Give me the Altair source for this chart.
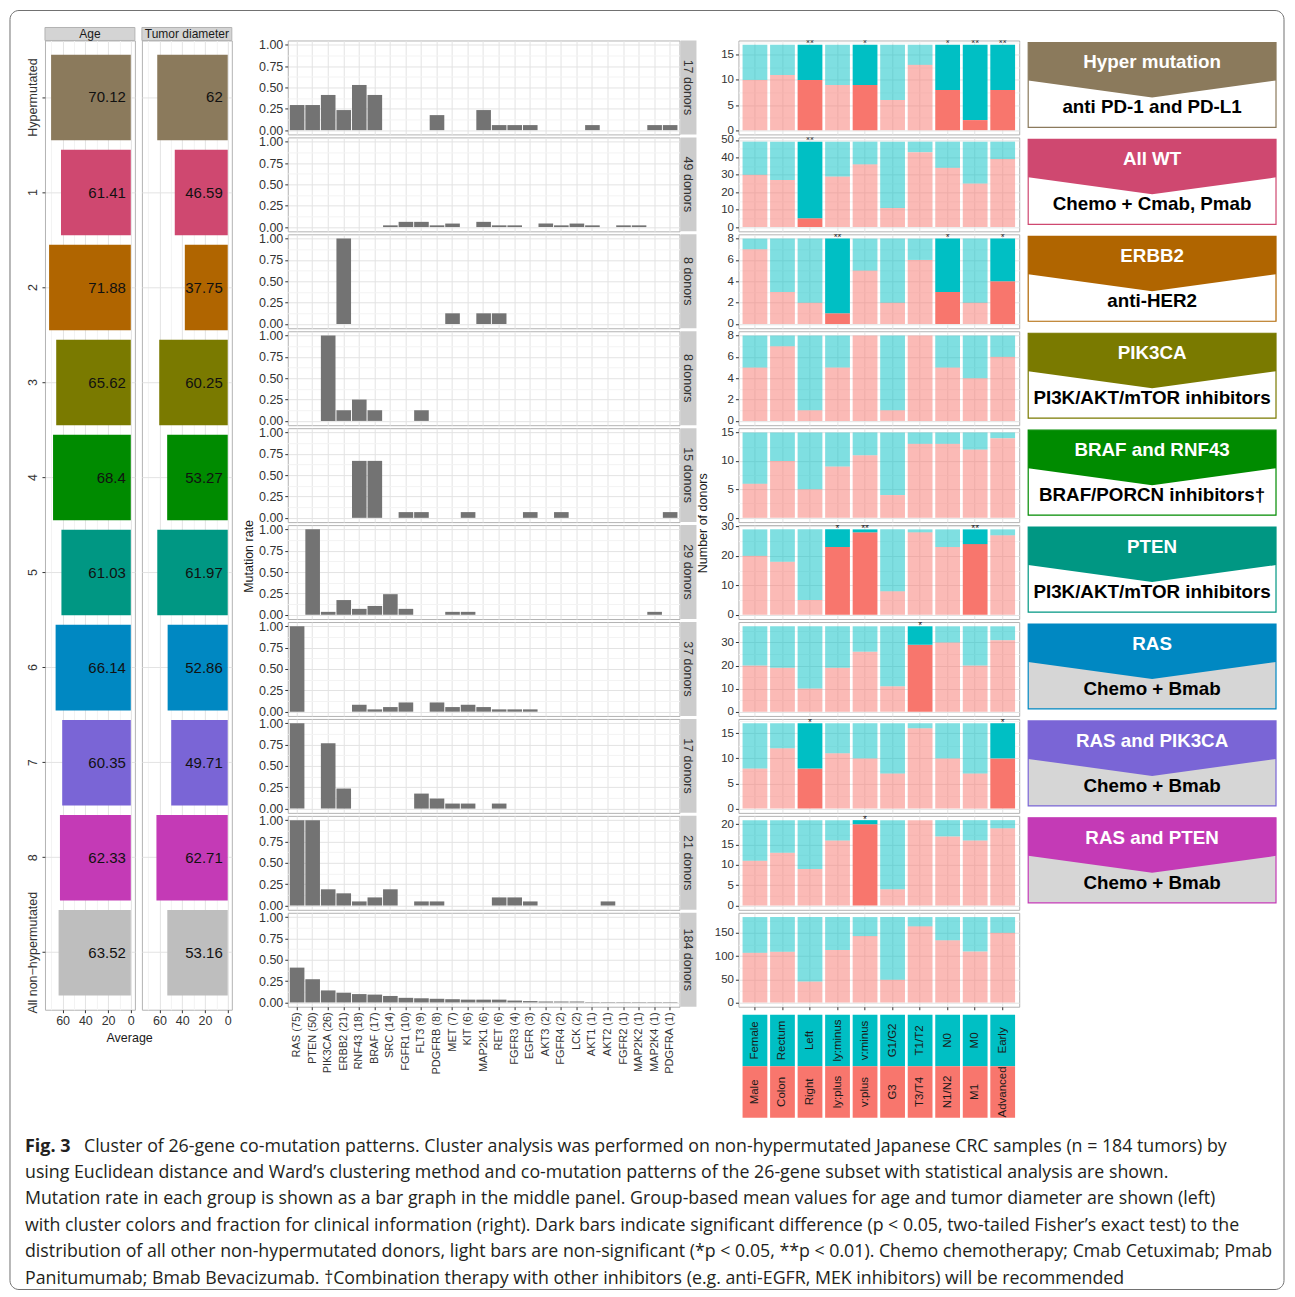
import altair as alt
import pandas as pd

FONT = "Liberation Sans"
CAP_FONT = "Open Sans"
MAJOR = "#E3E3E3"
MINOR = "#F3F3F3"
BORDER = "#B3B3B3"
TXT = "#333333"

# ---------------- data ----------------
groups = ["Hypermutated", "1", "2", "3", "4", "5", "6", "7", "8", "All non\u2212hypermutated"]
group_colors = ["#8B7A5C", "#CF4870", "#B06500", "#7A7A00", "#008B00",
                "#009783", "#0088C2", "#7A65D6", "#C43AB6", "#BEBEBE"]
age_mean = [70.12, 61.41, 71.88, 65.62, 68.4, 61.03, 66.14, 60.35, 62.33, 63.52]
tumor_mean = [62, 46.59, 37.75, 60.25, 53.27, 61.97, 52.86, 49.71, 62.71, 53.16]

genes = ["RAS (75)", "PTEN (50)", "PIK3CA (26)", "ERBB2 (21)", "RNF43 (18)", "BRAF (17)",
         "SRC (14)", "FGFR1 (10)", "FLT3 (9)", "PDGFRB (8)", "MET (7)", "KIT (6)",
         "MAP2K1 (6)", "RET (6)", "FGFR3 (4)", "EGFR (3)", "AKT3 (2)", "FGFR4 (2)",
         "LCK (2)", "AKT1 (1)", "AKT2 (1)", "FGFR2 (1)", "MAP2K2 (1)", "MAP2K4 (1)", "PDGFRA (1)"]

rate_hyper = [0.294, 0.294, 0.412, 0.235, 0.529, 0.412, 0, 0, 0, 0.176, 0, 0, 0.235,
              0.059, 0.059, 0.059, 0, 0, 0, 0.059, 0, 0, 0, 0.059, 0.059]
rate_c1 = [0, 0, 0, 0, 0, 0, 0.020, 0.061, 0.061, 0.020, 0.041, 0, 0.061,
           0.020, 0.020, 0, 0.041, 0.020, 0.041, 0.020, 0, 0.020, 0.020, 0, 0]
rate_c2 = [0, 0, 0, 1.0, 0, 0, 0, 0, 0, 0, 0.125, 0, 0.125,
           0.125, 0, 0, 0, 0, 0, 0, 0, 0, 0, 0, 0]
rate_c3 = [0, 0, 1.0, 0.125, 0.25, 0.125, 0, 0, 0.125, 0, 0, 0, 0,
           0, 0, 0, 0, 0, 0, 0, 0, 0, 0, 0, 0]
rate_c4 = [0, 0, 0, 0, 0.667, 0.667, 0, 0.067, 0.067, 0, 0, 0.067, 0,
           0, 0, 0.067, 0, 0.067, 0, 0, 0, 0, 0, 0, 0.067]
rate_c5 = [0, 1.0, 0.034, 0.172, 0.069, 0.103, 0.241, 0.069, 0, 0, 0.034, 0.034, 0,
           0, 0, 0, 0, 0, 0, 0, 0, 0, 0, 0.034, 0]
rate_c6 = [1.0, 0, 0, 0, 0.081, 0.027, 0.054, 0.108, 0, 0.108, 0.054, 0.081, 0.054,
           0.027, 0.027, 0.027, 0, 0, 0, 0, 0, 0, 0, 0, 0]
rate_c7 = [1.0, 0, 0.765, 0.235, 0, 0, 0, 0, 0.176, 0.118, 0.059, 0.059, 0,
           0.059, 0, 0, 0, 0, 0, 0, 0, 0, 0, 0, 0]
rate_c8 = [1.0, 1.0, 0.190, 0.143, 0.048, 0.095, 0.190, 0, 0.048, 0.048, 0, 0, 0,
           0.095, 0.095, 0.048, 0, 0, 0, 0, 0.048, 0, 0, 0, 0]
rate_all = [0.408, 0.272, 0.141, 0.114, 0.098, 0.092, 0.076, 0.054, 0.049, 0.043, 0.038,
            0.033, 0.033, 0.033, 0.022, 0.016, 0.011, 0.011, 0.011, 0.005, 0.005, 0.005,
            0.005, 0.005, 0.005]
mut_rates = [rate_hyper, rate_c1, rate_c2, rate_c3, rate_c4, rate_c5, rate_c6, rate_c7, rate_c8, rate_all]
donor_labels = ["17 donors", "49 donors", "8 donors", "8 donors", "15 donors",
                "29 donors", "37 donors", "17 donors", "21 donors", "184 donors"]
mut_ticks = [0, 0.125, 0.25, 0.375, 0.5, 0.625, 0.75, 0.875, 1.0]

clin_top = ["Female", "Rectum", "Left", "ly:minus", "v:minus", "G1/G2", "T1/T2", "N0", "M0", "Early"]
clin_bottom = ["Male", "Colon", "Right", "ly:plus", "v:plus", "G3", "T3/T4", "N1/N2", "M1", "Advanced"]
clin_total = [17, 49, 8, 8, 15, 29, 37, 17, 21, 184]
clin_red = [
    [10, 11, 10, 9, 9, 6, 13, 8, 2, 8],
    [30, 27, 5, 29, 36, 11, 43, 34, 25, 39],
    [7, 3, 2, 1, 5, 2, 6, 3, 2, 4],
    [5, 7, 1, 5, 8, 1, 8, 5, 4, 6],
    [6, 10, 5, 9, 11, 4, 13, 13, 12, 14],
    [20, 18, 5, 23, 28, 8, 28, 23, 24, 27],
    [20, 19, 10, 19, 26, 11, 29, 30, 20, 31],
    [8, 12, 8, 11, 10, 7, 16, 10, 7, 10],
    [11, 13, 9, 16, 20, 4, 21, 17, 16, 19],
    [107, 109, 45, 113, 143, 49, 164, 134, 110, 150],
]
clin_sig = [
    ["", "", "**", "", "*", "", "", "*", "**", "**"],
    ["", "", "**", "", "", "", "", "", "", ""],
    ["", "", "", "**", "", "", "", "*", "", "*"],
    [""] * 10,
    [""] * 10,
    ["", "", "", "*", "**", "", "", "", "**", ""],
    ["", "", "", "", "", "", "*", "", "", ""],
    ["", "", "*", "", "", "", "", "", "", "*"],
    ["", "", "", "", "*", "", "", "", "", ""],
    [""] * 10,
]
clin_step = [5, 10, 2, 2, 5, 10, 10, 5, 5, 50]

therapy_head = ["Hyper mutation", "All WT", "ERBB2", "PIK3CA", "BRAF and RNF43",
                "PTEN", "RAS", "RAS and PIK3CA", "RAS and PTEN"]
therapy_drug = ["anti PD-1 and PD-L1", "Chemo + Cmab, Pmab", "anti-HER2",
                "PI3K/AKT/mTOR inhibitors", "BRAF/PORCN inhibitors\u2020",
                "PI3K/AKT/mTOR inhibitors", "Chemo + Bmab", "Chemo + Bmab", "Chemo + Bmab"]
therapy_fill = ["#FFFFFF"] * 6 + ["#D6D6D6"] * 3
banner_x = [0, 0.5, 1]
banner_bottom = [40, 57, 40]
box_top, box_bottom, head_y, drug_y = 2, 87, 22, 67

caption_lines = [
    "Cluster of 26-gene co-mutation patterns. Cluster analysis was performed on non-hypermutated Japanese CRC samples (n = 184 tumors) by",
    "using Euclidean distance and Ward\u2019s clustering method and co-mutation patterns of the 26-gene subset with statistical analysis are shown.",
    "Mutation rate in each group is shown as a bar graph in the middle panel. Group-based mean values for age and tumor diameter are shown (left)",
    "with cluster colors and fraction for clinical information (right). Dark bars indicate significant difference (p < 0.05, two-tailed Fisher\u2019s exact test) to the",
    "distribution of all other non-hypermutated donors, light bars are non-significant (*p < 0.05, **p < 0.01). Chemo chemotherapy; Cmab Cetuximab; Pmab",
    "Panitumumab; Bmab Bevacizumab. \u2020Combination therapy with other inhibitors (e.g. anti-EGFR, MEK inhibitors) will be recommended",
]

# ---------------- sizes ----------------
H = 94          # row panel height
ROWPAD = -20    # negative: rows are stacked by their bottom extent only
W_MUT = 392
W_CLIN = 281
W_TH = 248
W_AVG = 90
H_AVG = 970
NOBORDER = alt.ViewBackground(strokeOpacity=0)
FRAME_TOP = 1124   # distance from caption origin up to the figure frame


def cond(test, a, b):
    return {"condition": {"test": test, "value": a}, "value": b}


def marker(df, below):
    # invisible rect fixing the bottom extent of a row (sets row pitch)
    return alt.Chart(df).mark_rect(opacity=0).encode(
        x=alt.value(0), x2=alt.value(1), y=alt.value(H - 1), y2=alt.value(H + below))


# ---------------- left panel: averages ----------------
avg_df = pd.DataFrame({
    "group": groups, "color": group_colors,
    "age": age_mean, "tumor": tumor_mean,
    "age_lab": [f"{v:g}" for v in age_mean],
    "tumor_lab": [f"{v:g}" for v in tumor_mean],
})


def avg_panel(field, header, show_y):
    minor = "datum.value % 20 !== 0"
    xax = alt.Axis(title=None, values=list(range(0, 80, 10)), grid=True,
                   labelExpr="datum.value % 20 === 0 ? datum.label : ''",
                   tickOpacity=cond(minor, 0, 1), gridColor=cond(minor, MINOR, MAJOR),
                   labelFontSize=12.5, labelFlush=False, labelOverlap=False)
    if show_y:
        yax = alt.Axis(title=None, labelAngle=270, labelAlign="center", labelBaseline="bottom",
                       labelFontSize=12.5, grid=True, bandPosition=0.5, gridColor=MAJOR,
                       labelOverlap=False)
    else:
        yax = alt.Axis(title=None, labels=False, ticks=False, grid=True, bandPosition=0.5,
                       gridColor=MAJOR)
    xs = alt.Scale(domain=[-3.6, 75.5], reverse=True, nice=False, zero=False)
    ys = alt.Scale(paddingInner=0.1, paddingOuter=0.15)
    base = alt.Chart(avg_df)
    bars = base.mark_bar().encode(
        x=alt.X(f"{field}:Q", scale=xs, axis=xax), x2=alt.datum(0),
        y=alt.Y("group:N", sort=groups, scale=ys, axis=yax),
        color=alt.Color("color:N", scale=None),
    )
    labels = base.mark_text(align="right", baseline="middle", dx=-5, fontSize=15,
                            color="#111111", font=FONT).encode(
        x=alt.X("zero:Q", scale=xs, axis=xax),
        y=alt.Y("group:N", sort=groups, scale=ys, axis=yax),
        text=f"{field}_lab:N",
    ).transform_calculate(zero="0")
    hdf = pd.DataFrame({"h": [header]})
    hrect = alt.Chart(hdf).mark_rect(fill="#D4D4D4", stroke=BORDER, strokeWidth=1).encode(
        x=alt.value(0), x2=alt.value(W_AVG), y=alt.value(-13), y2=alt.value(0))
    htext = alt.Chart(hdf).mark_text(fontSize=12, color="#1A1A1A", font=FONT).encode(
        x=alt.value(W_AVG / 2), y=alt.value(-6), text="h:N")
    return alt.layer(bars, labels, hrect, htext).properties(width=W_AVG, height=H_AVG)


colA = alt.hconcat(
    avg_panel("age", "Age", True), avg_panel("tumor", "Tumor diameter", False), spacing=5,
    title=alt.TitleParams("Average", orient="bottom", anchor="middle", fontSize=12.5,
                          fontWeight="normal", font=FONT, color="#1A1A1A", offset=4),
)


# ---------------- middle panel: mutation rates ----------------
def mut_chart(i):
    last = i == 9
    df = pd.DataFrame({"gene": genes, "rate": mut_rates[i]})
    minor = "datum.value % 0.25 !== 0"
    xax = alt.Axis(title=None, grid=True, bandPosition=0.5, gridColor=MAJOR,
                   labels=last, ticks=last, labelAngle=270, labelAlign="right",
                   labelBaseline="middle", labelFontSize=11, labelOverlap=False)
    yax = alt.Axis(title=None, values=mut_ticks, format=".2f",
                   labelExpr="datum.value % 0.25 === 0 ? datum.label : ''",
                   tickOpacity=cond(minor, 0, 1), gridColor=cond(minor, MINOR, MAJOR),
                   labelFontSize=12.5, labelOverlap=False, minExtent=30, maxExtent=30)
    bars = alt.Chart(df).mark_bar(color="#737373").encode(
        x=alt.X("gene:N", sort=genes, scale=alt.Scale(paddingInner=0.06, paddingOuter=0.13), axis=xax),
        y=alt.Y("rate:Q", scale=alt.Scale(domain=[-0.05, 1.05], nice=False, zero=False), axis=yax),
        y2=alt.datum(0),
    )
    sdf = pd.DataFrame({"lab": [donor_labels[i]]})
    strip = alt.Chart(sdf).mark_rect(fill="#CCCCCC").encode(
        x=alt.value(W_MUT + 1), x2=alt.value(W_MUT + 17), y=alt.value(0), y2=alt.value(H))
    stext = alt.Chart(sdf).mark_text(angle=90, fontSize=12.5, color=TXT, font=FONT).encode(
        x=alt.value(W_MUT + 9), y=alt.value(H / 2), text="lab:N")
    return alt.layer(marker(sdf, 2), bars, strip, stext).properties(width=W_MUT, height=H)


colB = alt.vconcat(
    *[mut_chart(i) for i in range(10)], spacing=ROWPAD,
    title=alt.TitleParams("Mutation rate", orient="left", anchor="middle", fontSize=12.5,
                          fontWeight="normal", font=FONT, color="#1A1A1A", offset=2),
)

# ---------------- right panel: clinical fractions ----------------
clin_xscale = alt.Scale(paddingInner=0.1, paddingOuter=0.15)


def clin_chart(i):
    last = i == 9
    tot = clin_total[i]
    step = clin_step[i]
    recs = []
    stars = []
    for j in range(10):
        r = clin_red[i][j]
        op = 1.0 if clin_sig[i][j] else 0.5
        recs.append({"cat": clin_top[j], "part": "low", "y0": 0, "y1": r, "op": op})
        recs.append({"cat": clin_top[j], "part": "high", "y0": r, "y1": tot, "op": op})
        if clin_sig[i][j]:
            stars.append({"cat": clin_top[j], "tot": tot, "star": clin_sig[i][j]})
    df = pd.DataFrame(recs)
    lo, hi = -0.05 * tot, 1.05 * tot
    vals = []
    v = 0.0
    while v <= hi:
        vals.append(v)
        v += step / 2
    minor = f"datum.value % {step} !== 0"
    yax = alt.Axis(title=None, values=vals, format="d",
                   labelExpr=f"datum.value % {step} === 0 ? datum.label : ''",
                   tickOpacity=cond(minor, 0, 1), gridColor=cond(minor, MINOR, MAJOR),
                   labelFontSize=11.5, labelOverlap=False, minExtent=25, maxExtent=25)
    xax = alt.Axis(title=None, grid=True, bandPosition=0.5, gridColor=MAJOR,
                   labels=False, ticks=last)
    ys = alt.Scale(domain=[lo, hi], nice=False, zero=False)
    bars = alt.Chart(df).mark_bar().encode(
        x=alt.X("cat:N", sort=clin_top, scale=clin_xscale, axis=xax),
        y=alt.Y("y0:Q", scale=ys, axis=yax), y2="y1",
        color=alt.Color("part:N", scale=alt.Scale(domain=["low", "high"], range=["#F8766D", "#00BFC4"]),
                        legend=None),
        opacity=alt.Opacity("op:Q", scale=None),
    )
    layers = [marker(df, 2), bars]
    if stars:
        sdf = pd.DataFrame(stars)
        layers.append(alt.Chart(sdf).mark_text(clip=True, fontSize=10, dy=2.5, baseline="alphabetic",
                                               color="#222222", font=FONT).encode(
            x=alt.X("cat:N", sort=clin_top, scale=clin_xscale, axis=xax),
            y=alt.Y("tot:Q", scale=ys, axis=yax), text="star:N"))
    return alt.layer(*layers).properties(width=W_CLIN, height=H)


leg_df = pd.DataFrame(
    [{"cat": clin_top[j], "lvl": "a", "lab": clin_top[j], "fill": "#00BFC4"} for j in range(10)]
    + [{"cat": clin_top[j], "lvl": "b", "lab": clin_bottom[j], "fill": "#F8766D"} for j in range(10)]
)
leg_x = alt.X("cat:N", sort=clin_top, scale=clin_xscale, axis=None)
leg_y = alt.Y("lvl:N", scale=alt.Scale(domain=["a", "b"], paddingInner=0, paddingOuter=0), axis=None)
legend = alt.layer(
    alt.Chart(leg_df).mark_rect().encode(
        x=leg_x, y=leg_y, color=alt.Color("fill:N", scale=None)),
    alt.Chart(leg_df).mark_text(angle=270, fontSize=11.5, color="#1A1A1A", font=FONT).encode(
        x=leg_x, y=leg_y, text="lab:N"),
).properties(width=W_CLIN, height=103, view=NOBORDER)

colC = alt.vconcat(
    alt.vconcat(*[clin_chart(i) for i in range(10)], spacing=ROWPAD,
                title=alt.TitleParams("Number of donors", orient="left", anchor="middle", fontSize=12.5,
                                      fontWeight="normal", font=FONT, color="#1A1A1A", offset=3)),
    legend, spacing=4,
)


# ---------------- therapy boxes ----------------
def therapy_chart(k):
    col = group_colors[k]
    xs = alt.Scale(domain=[0, 1], nice=False, zero=False)
    ys = alt.Scale(domain=[H, 0], nice=False, zero=False)
    box = pd.DataFrame({"x0": [0], "x1": [1], "y0": [box_top], "y1": [box_bottom]})
    ban = pd.DataFrame({"x": banner_x, "top": [box_top] * 3, "bot": banner_bottom})
    tx = pd.DataFrame({"x": [0.5, 0.5], "y": [head_y, drug_y],
                       "t": [therapy_head[k], therapy_drug[k]], "w": ["h", "d"]})
    rect = alt.Chart(box).mark_rect(fill=therapy_fill[k], stroke=col, strokeWidth=1.2).encode(
        x=alt.X("x0:Q", scale=xs, axis=None), x2="x1",
        y=alt.Y("y0:Q", scale=ys, axis=None), y2="y1")
    area = alt.Chart(ban).mark_area(color=col, opacity=1).encode(
        x=alt.X("x:Q", scale=xs, axis=None), y=alt.Y("top:Q", scale=ys, axis=None), y2="bot")
    head = alt.Chart(tx[tx.w == "h"]).mark_text(color="#FFFFFF", fontWeight="bold", fontSize=18.8,
                                               font=FONT).encode(
        x=alt.X("x:Q", scale=xs, axis=None), y=alt.Y("y:Q", scale=ys, axis=None), text="t:N")
    drug = alt.Chart(tx[tx.w == "d"]).mark_text(color="#000000", fontWeight="bold", fontSize=18.8,
                                               font=FONT).encode(
        x=alt.X("x:Q", scale=xs, axis=None), y=alt.Y("y:Q", scale=ys, axis=None), text="t:N")
    return alt.layer(marker(box, 3), rect, area, head, drug).properties(width=W_TH, height=H, view=NOBORDER)


colD = alt.vconcat(*[therapy_chart(k) for k in range(9)], spacing=ROWPAD)

main = alt.hconcat(
    alt.hconcat(colA, colB, spacing=10),
    alt.hconcat(colC, colD, spacing=7),
    spacing=-1,
)

# ---------------- caption (and figure frame) ----------------
cap_df = pd.DataFrame({"i": list(range(6)), "t": caption_lines, "xp": [39] + [-20] * 5})
fig_df = pd.DataFrame({"i": [0], "t": ["Fig. 3"], "xp": [-20]})
cap_y = alt.Y("i:Q", scale=alt.Scale(domain=[0, 5], range=[13, 145]), axis=None)
frame = alt.Chart(fig_df).mark_rect(fillOpacity=0, stroke="#707070", strokeWidth=1, cornerRadius=9).encode(
    x=alt.value(-35), x2=alt.value(1240), y=alt.value(-FRAME_TOP), y2=alt.value(156))
caption = alt.layer(
    frame,
    alt.Chart(fig_df).mark_text(align="left", baseline="middle", font=CAP_FONT, fontSize=18,
                                fontWeight="bold", color="#231F20").encode(
        x=alt.X("xp:Q", scale=None), y=cap_y, text="t:N"),
    alt.Chart(cap_df).mark_text(align="left", baseline="middle", font=CAP_FONT, fontSize=17.8,
                                color="#231F20").encode(
        x=alt.X("xp:Q", scale=None), y=cap_y, text="t:N"),
).properties(width=1200, height=160, view=NOBORDER)

chart = alt.vconcat(main, caption, spacing=16 - (FRAME_TOP + 1)).properties(
    padding={"left": 1, "top": 1, "right": 2, "bottom": 2}
).configure_view(stroke=BORDER, strokeWidth=1).configure_axis(
    domain=False, labelFont=FONT, labelColor=TXT, tickColor=TXT, tickSize=3,
    labelPadding=2, gridWidth=1
).configure_text(font=FONT)

chart.save("out.html", embed_options={"renderer": "svg", "actions": False})
